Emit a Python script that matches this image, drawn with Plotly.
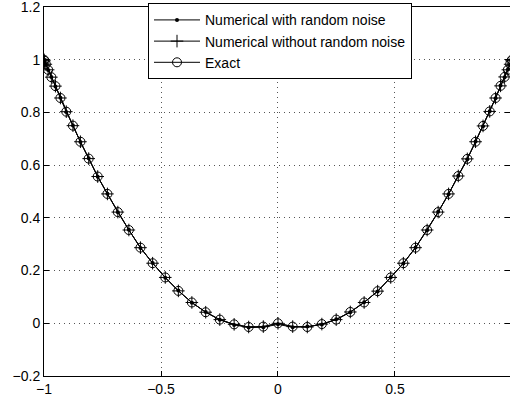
import plotly.graph_objects as go

# Chebyshev-like node positions (x from -1 to 1)
x_vals = [-1.0, -0.998, -0.9921, -0.9823, -0.9686, -0.9511, -0.9298, -0.9048, -0.8763, -0.8443,
          -0.809, -0.7705, -0.729, -0.6845, -0.6374, -0.5878, -0.5358, -0.4818, -0.4258, -0.3681,
          -0.309, -0.2487, -0.1874, -0.1253, -0.0628, 0.0,
          0.0628, 0.1253, 0.1874, 0.2487, 0.309, 0.3681, 0.4258, 0.4818, 0.5358, 0.5878,
          0.6374, 0.6845, 0.729, 0.7705, 0.809, 0.8443, 0.8763, 0.9048, 0.9298, 0.9511,
          0.9686, 0.9823, 0.9921, 0.998, 1.0]

y_exact = [1.0, 0.996, 0.983, 0.962, 0.934, 0.900, 0.855, 0.803, 0.750, 0.689,
           0.625, 0.557, 0.491, 0.422, 0.354, 0.287, 0.228, 0.174, 0.123, 0.079,
           0.042, 0.014, -0.004, -0.014, -0.0125, 0.0,
           -0.0125, -0.014, -0.003, 0.014, 0.043, 0.079, 0.122, 0.174, 0.228, 0.287,
           0.354, 0.422, 0.491, 0.559, 0.624, 0.689, 0.749, 0.804, 0.855, 0.901,
           0.935, 0.962, 0.983, 0.996, 1.0]

y_no_noise = [1.0, 0.996, 0.983, 0.962, 0.934, 0.900, 0.855, 0.803, 0.750, 0.689,
              0.625, 0.557, 0.491, 0.422, 0.354, 0.287, 0.228, 0.174, 0.123, 0.079,
              0.042, 0.014, -0.004, -0.014, -0.0125, 0.0,
              -0.0125, -0.014, -0.003, 0.014, 0.043, 0.079, 0.122, 0.174, 0.228, 0.287,
              0.354, 0.422, 0.491, 0.559, 0.624, 0.689, 0.749, 0.804, 0.855, 0.901,
              0.935, 0.962, 0.983, 0.996, 1.0]

y_noise = [1.0, 0.995, 0.984, 0.961, 0.935, 0.899, 0.856, 0.802, 0.751, 0.688,
           0.626, 0.556, 0.492, 0.421, 0.355, 0.286, 0.229, 0.173, 0.124, 0.078,
           0.043, 0.013, -0.006, -0.016, -0.015, -0.004,
           -0.015, -0.012, -0.005, 0.015, 0.042, 0.080, 0.121, 0.175, 0.227, 0.288,
           0.353, 0.423, 0.490, 0.560, 0.623, 0.690, 0.748, 0.805, 0.854, 0.902,
           0.934, 0.963, 0.982, 0.997, 1.0]

x_ticks = [-1, -0.5, 0, 0.5]
x_tick_labels = ["\u22121", "\u22120.5", "0", "0.5"]
y_ticks = [-0.2, 0, 0.2, 0.4, 0.6, 0.8, 1.0, 1.2]
y_tick_labels = ["\u22120.2", "0", "0.2", "0.4", "0.6", "0.8", "1", "1.2"]

FONT = "Liberation Sans, Arial, Helvetica, sans-serif"

fig = go.Figure()
fig.add_trace(go.Scatter(
    x=x_vals, y=y_noise, mode="lines+markers", name="Numerical with random noise",
    line=dict(color="black", width=1),
    marker=dict(symbol="circle", size=4, color="black"),
))
fig.add_trace(go.Scatter(
    x=x_vals, y=y_no_noise, mode="lines+markers", name="Numerical without random noise",
    line=dict(color="black", width=1),
    marker=dict(symbol="cross-thin", size=9, color="black", line=dict(color="black", width=1)),
))
fig.add_trace(go.Scatter(
    x=x_vals, y=y_exact, mode="lines+markers", name="Exact",
    line=dict(color="black", width=1),
    marker=dict(symbol="circle-open", size=9, color="black", line=dict(color="black", width=1)),
))

axis_common = dict(
    showline=True, linecolor="black", linewidth=1, mirror="ticks",
    ticks="inside", ticklen=5, tickcolor="black",
    showgrid=True, gridcolor="#555555", gridwidth=1, griddash="1px,4px",
    zeroline=False, automargin=False, ticklabeloverflow="allow",
    tickfont=dict(family=FONT, size=14, color="black"),
)

fig.update_layout(
    template="none",
    width=510, height=401,
    margin=dict(l=44, r=0, t=7, b=25, pad=0),
    paper_bgcolor="white", plot_bgcolor="white",
    showlegend=True,
    legend=dict(
        x=0.2232, y=1.01, xanchor="left", yanchor="top",
        bgcolor="white", bordercolor="black", borderwidth=1,
        font=dict(family=FONT, size=14, color="black"),
        tracegroupgap=0, itemwidth=46,
    ),
    xaxis=dict(range=[-1, 0.9915], tickvals=x_ticks, ticktext=x_tick_labels, **axis_common),
    yaxis=dict(range=[-0.2, 1.2003], tickvals=y_ticks, ticktext=y_tick_labels, **axis_common),
)

fig.write_html(
    "out.html",
    config={"displayModeBar": False},
    post_script="document.body.style.margin='0px';document.body.style.padding='0px';",
)
